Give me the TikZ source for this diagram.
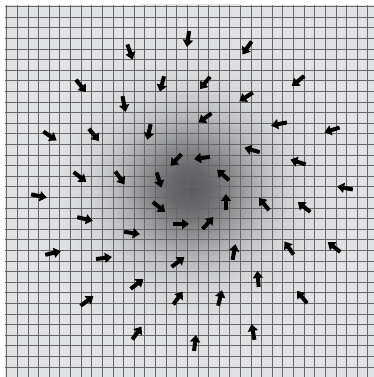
\documentclass[tikz,border=0pt]{standalone}
\usetikzlibrary{arrows.meta}
\definecolor{bgcol}{rgb}{0.882,0.886,0.894}
\definecolor{gridcol}{rgb}{0.40,0.40,0.42}
\pgfdeclareradialshading{blob}{\pgfpoint{0bp}{0bp}}{%
  rgb(0bp)=(0.36,0.36,0.37);
  rgb(2.63bp)=(0.406,0.407,0.416);
  rgb(5.26bp)=(0.52,0.522,0.53);
  rgb(7.89bp)=(0.652,0.655,0.662);
  rgb(10.53bp)=(0.76,0.763,0.771);
  rgb(13.16bp)=(0.828,0.832,0.84);
  rgb(17.1bp)=(0.869,0.873,0.881);
  rgb(21.05bp)=(0.8805,0.8845,0.8925);
  rgb(25bp)=(0.882,0.886,0.894);
  rgb(50bp)=(0.882,0.886,0.894)}
\tikzset{
  vec/.style={line width=4pt,-{Triangle[length=7pt,width=10pt]},black},
  gridline/.style={draw=gridcol,line width=0.7pt}
}
\begin{document}
\begin{tikzpicture}[x=1pt,y=1pt]
\useasboundingbox (0,0) rectangle (374,377);
\fill[white] (0,0) rectangle (374,377);
\fill[bgcol] (5,0) rectangle (374,372);
\begin{scope}
  \clip (5,0) rectangle (374,372);
  \shade[shading=blob] (190,189) circle (190);
\end{scope}
% grid
\foreach \k in {0,...,34}{
  \draw[gridline] ({6.7+10.62*\k},0) -- ({6.7+10.62*\k},372);
  \draw[gridline] (5,{370.4-10.6*\k}) -- (374,{370.4-10.6*\k});
}
% vector field
\foreach \x/\y/\a in {
 188/338/-98, 130/325/-71, 247/329/-125,
 81/291/-51, 162/293/-105, 205/294/-129, 298/296/-141,
 124/273/-79, 246/280/-147, 205/259/-144, 279/253/-169,
 50/241/-34, 94/242/-51, 149/245/-102, 332/247/-162,
 252/227/164, 202/219/-172, 298/215/163, 223/202/138,
 345/189/169, 176/217/-133, 80/200/-38, 120/199/-54,
 159/197/-73, 39/181/-12, 159/170/-39, 85/158/-13,
 181/153/0, 132/144/-9, 53/124/13, 104/119/7,
 178/115/37, 137/93/37, 87/76/37, 178/79/54,
 137/44/54, 226/175/90, 264/173/129, 304/170/141,
 208/154/48, 234/125/80, 289/129/125, 334/130/142,
 258/98/95, 220/79/76, 302/80/129, 253/45/100, 195/34/83}{
  \draw[vec,shift={(\x,\y)},rotate=\a] (-8,0) -- (8,0);
}
\end{tikzpicture}
\end{document}
